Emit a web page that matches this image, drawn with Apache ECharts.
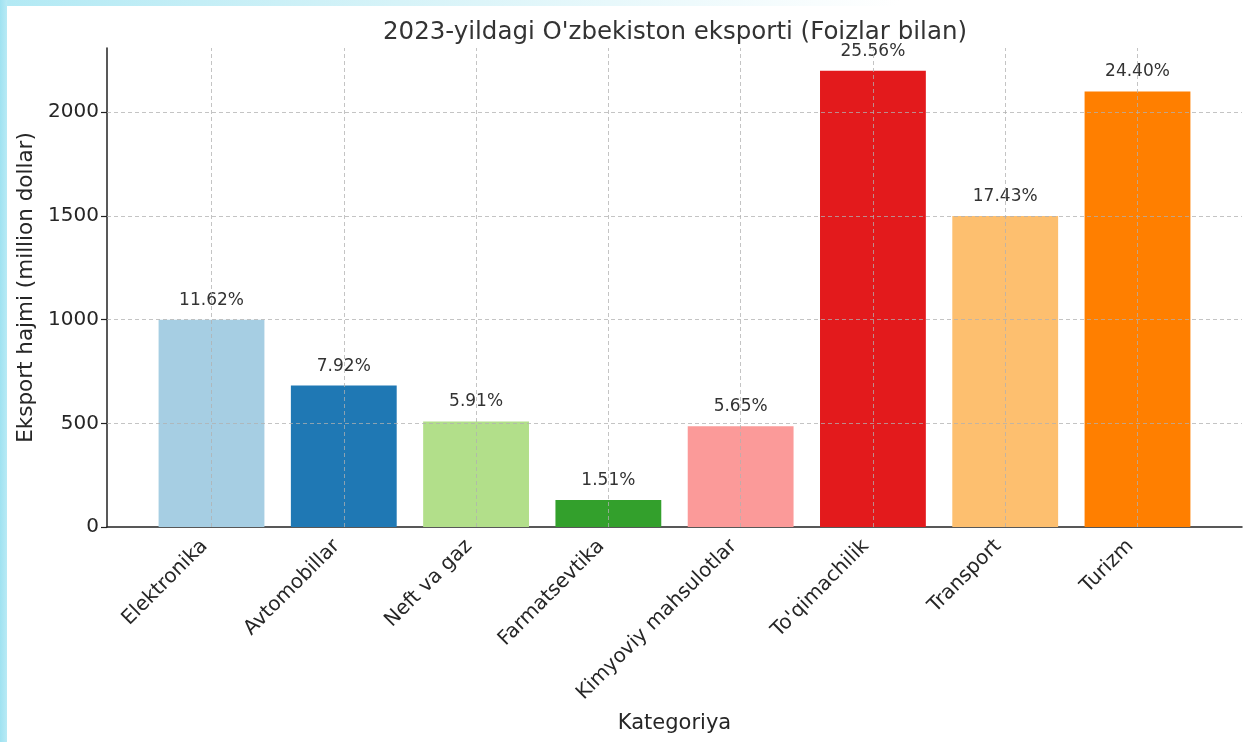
<!DOCTYPE html>
<html>
<head>
<meta charset="utf-8">
<script src="https://cdn.jsdelivr.net/npm/echarts@6/dist/echarts.min.js"></script>
<style>
  html, body { margin: 0; padding: 0; width: 1247px; height: 742px; overflow: hidden; }
  body {
    background:
      linear-gradient(to right, #9fe2f1 0px, #b8eaf5 7px, rgba(255,255,255,0) 7px),
      linear-gradient(to bottom, rgba(255,255,255,0) 6px, #ffffff 6px),
      linear-gradient(to right, #b2e9f4 0px, #d6f3f8 400px, #ffffff 900px);
  }
  #chart { position: absolute; left: 0; top: 0; width: 1247px; height: 742px; }
</style>
</head>
<body>
<div id="chart"></div>
<script>
const categories = ['Elektronika', 'Avtomobillar', 'Neft va gaz', 'Farmatsevtika', 'Kimyoviy mahsulotlar', "To'qimachilik", 'Transport', 'Turizm'];
const values = [1000, 682, 509, 130, 486, 2200, 1500, 2100];
const percentLabels = ['11.62%', '7.92%', '5.91%', '1.51%', '5.65%', '25.56%', '17.43%', '24.40%'];
const barColors = ['#a6cee3', '#1f78b4', '#b2df8a', '#33a02c', '#fb9a99', '#e31a1c', '#fdbf6f', '#ff7f00'];
const yTicks = [0, 500, 1000, 1500, 2000];

const idx = categories.map((c, i) => i);
const font = 'DejaVu Sans';
const gridStyle = { color: '#b0b0b0', type: [4, 3], width: 1, opacity: 0.75 };

const chart = echarts.init(document.getElementById('chart'), null, { renderer: 'canvas' });
chart.setOption({
  animation: false,
  textStyle: { fontFamily: font },
  title: {
    text: "2023-yildagi O'zbekiston eksporti (Foizlar bilan)",
    left: 378,
    top: 15,
    textStyle: { fontFamily: font, fontSize: 24.5, fontWeight: 'normal', color: '#333333' }
  },
  grid: { left: 107, right: 5, top: 48, bottom: 215, containLabel: false },
  xAxis: {
    type: 'value',
    min: -0.79,
    max: 7.79,
    name: 'Kategoriya',
    nameLocation: 'middle',
    nameGap: 186,
    nameTextStyle: { fontFamily: font, fontSize: 21, color: '#262626' },
    axisLine: { show: true, onZero: false, lineStyle: { color: '#222222', width: 1.5 } },
    axisTick: { show: true, inside: true, length: 6, customValues: idx, lineStyle: { color: '#222222', width: 1.2 } },
    axisLabel: {
      customValues: idx,
      rotate: 45,
      margin: 9,
      padding: [0, 10, 0, 0],
      fontFamily: font,
      fontSize: 20,
      color: '#262626',
      formatter: v => categories[Math.round(v)] || ''
    },
    splitLine: { show: false }
  },
  yAxis: {
    type: 'value',
    min: 0,
    max: 2310,
    name: 'Eksport hajmi (million dollar)',
    nameLocation: 'middle',
    nameRotate: 90,
    nameGap: 61,
    nameTextStyle: { fontFamily: font, fontSize: 21.5, color: '#262626' },
    axisLine: { show: true, onZero: false, lineStyle: { color: '#222222', width: 1.5 } },
    axisTick: { show: true, inside: false, length: 6, customValues: yTicks, lineStyle: { color: '#222222', width: 1.2 } },
    axisLabel: { customValues: yTicks, margin: 8, fontFamily: font, fontSize: 20, color: '#262626', formatter: v => String(v) },
    splitLine: { show: false }
  },
  series: [{
    type: 'bar',
    barWidth: '80%',
    data: values.map((v, i) => ({ value: [i, v], itemStyle: { color: barColors[i] } })),
    label: {
      show: true,
      position: 'top',
      distance: 11,
      fontFamily: font,
      fontSize: 17,
      color: '#333333',
      formatter: p => percentLabels[p.dataIndex]
    },
    markLine: {
      silent: true,
      symbol: 'none',
      label: { show: false },
      lineStyle: gridStyle,
      data: idx.map(i => ({ xAxis: i })).concat(yTicks.filter(t => t > 0).map(t => ({ yAxis: t })))
    }
  }]
});
</script>
</body>
</html>
